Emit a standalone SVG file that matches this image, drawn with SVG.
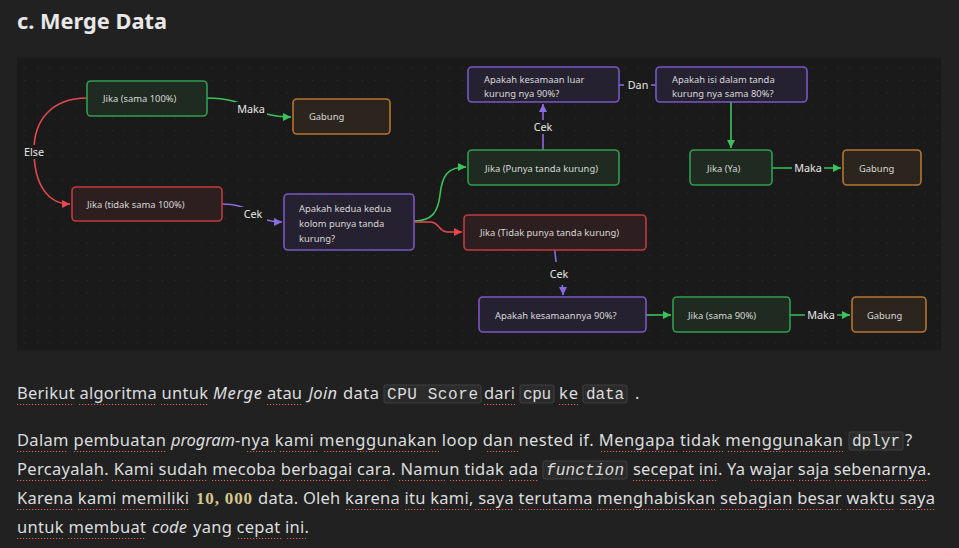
<svg xmlns="http://www.w3.org/2000/svg" width="959" height="548" viewBox="0 0 959 548">
<defs>
<pattern id="dots" x="24.5" y="67.5" width="12.5" height="12.5" patternUnits="userSpaceOnUse"><circle cx="0.6" cy="0.6" r="0.6" fill="#2e2e2e"/></pattern>
<marker id="ag" viewBox="0 0 10 10" refX="10" refY="5" markerWidth="8" markerHeight="8" markerUnits="userSpaceOnUse" orient="auto"><path d="M0,0 L10,5 L0,10 z" fill="#3cc25b"/></marker>
<marker id="ar" viewBox="0 0 10 10" refX="10" refY="5" markerWidth="8" markerHeight="8" markerUnits="userSpaceOnUse" orient="auto"><path d="M0,0 L10,5 L0,10 z" fill="#e5484d"/></marker>
<marker id="ap" viewBox="0 0 10 10" refX="10" refY="5" markerWidth="8" markerHeight="8" markerUnits="userSpaceOnUse" orient="auto"><path d="M0,0 L10,5 L0,10 z" fill="#8a6be0"/></marker>
</defs>
<style>
.nd rect{stroke-width:1.6}
.g rect{fill:#1f2a21;stroke:#2f9e4f}
.o rect{fill:#2b251d;stroke:#b87430}
.r rect{fill:#2d1f20;stroke:#c33a3f}
.p rect{fill:#252130;stroke:#7a57c6}
.nt{font-family:"Noto Sans",sans-serif;font-size:9.4px;fill:#d8d8d8}
.e{fill:none;stroke-width:1.6}
.eg{stroke:#3cc25b}.er{stroke:#e5484d}.ep{stroke:#8a6be0}
.lb{fill:#1a1a1a}
.el{font-family:"Noto Sans",sans-serif;font-size:10.8px;fill:#e6e6e6;text-anchor:middle}
.tx{font-family:"Noto Sans",sans-serif;font-size:16.5px;fill:#dcddde}
.it{font-style:italic}
.cb{fill:#2b2b2b;stroke:#404040;stroke-width:1}
.cd{font-family:"Liberation Mono","DejaVu Sans Mono",monospace;font-size:16px;fill:#dcddde}
.ul{stroke:#e0604f;stroke-width:1.2;stroke-dasharray:1.2 1.8}
</style>
<rect width="959" height="548" fill="#212121"/>
<text x="17" y="29" font-family="Noto Sans, sans-serif" font-size="22" font-weight="700" fill="#e8e8e8" textLength="150" lengthAdjust="spacingAndGlyphs">c. Merge Data</text>
<rect x="17" y="58" width="924" height="292" fill="#1a1a1a"/>
<rect x="17" y="58" width="924" height="292" fill="url(#dots)"/>

<g id="connectors">
<path class="e eg" d="M207,98 C250,98 250,117 291,117" marker-end="url(#ag)"/>
<path class="e er" d="M87,98 C52,98 34,120 34,150 C34,185 48,204 70,204" marker-end="url(#ar)"/>
<path class="e ep" d="M222,204 C256,204 252,222 282,222" marker-end="url(#ap)"/>
<path class="e eg" d="M414,221 C432,221 438,212 440,195 C442,175 448,167 466,167" marker-end="url(#ag)"/>
<path class="e er" d="M414,222 L430,222 C440,222 438,232 448,232 L462,232" marker-end="url(#ar)"/>
<path class="e ep" d="M543,150 L543,104" marker-end="url(#ap)"/>
<path class="e ep" d="M619,85 L656,85"/>
<path class="e eg" d="M731,102 L731,148" marker-end="url(#ag)"/>
<path class="e eg" d="M772,168 L841,168" marker-end="url(#ag)"/>
<path class="e ep" d="M555,250 C555,275 563,272 563,295" marker-end="url(#ap)"/>
<path class="e eg" d="M646,315 L671,315" marker-end="url(#ag)"/>
<path class="e eg" d="M790,315 L850,315" marker-end="url(#ag)"/>
<rect class="lb" x="235" y="102" width="32" height="13"/><text class="el" x="251" y="112.5">Maka</text>
<rect class="lb" x="22" y="145" width="24" height="14"/><text class="el" x="34" y="156">Else</text>
<rect class="lb" x="239" y="207" width="28" height="14"/><text class="el" x="253" y="218">Cek</text>
<rect class="lb" x="529" y="120" width="28" height="14"/><text class="el" x="543" y="131">Cek</text>
<rect class="lb" x="624" y="78" width="27" height="14"/><text class="el" x="638" y="89">Dan</text>
<rect class="lb" x="792" y="161" width="32" height="14"/><text class="el" x="808" y="172">Maka</text>
<rect class="lb" x="545" y="262" width="28" height="23"/><text class="el" x="559" y="278">Cek</text>
<rect class="lb" x="805" y="308" width="32" height="14"/><text class="el" x="821" y="319">Maka</text>
</g>

<g id="n1" class="nd g"><rect x="87" y="81" width="120" height="35" rx="4"/><text class="nt" x="103" y="102">Jika (sama 100%)</text></g>
<g id="n2" class="nd o"><rect x="293" y="99" width="97" height="35" rx="4"/><text class="nt" x="309" y="120">Gabung</text></g>
<g id="n3" class="nd r"><rect x="72" y="187" width="150" height="34" rx="4"/><text class="nt" x="87" y="207.5">Jika (tidak sama 100%)</text></g>
<g id="n4" class="nd p"><rect x="284" y="194" width="130" height="56" rx="4"/><text class="nt" x="299" y="211.5">Apakah kedua kedua</text><text class="nt" x="299" y="226.5">kolom punya tanda</text><text class="nt" x="299" y="241.5">kurung?</text></g>
<g id="n5" class="nd p"><rect x="468" y="67" width="151" height="35" rx="4"/><text class="nt" x="484" y="82.5">Apakah kesamaan luar</text><text class="nt" x="484" y="96.5">kurung nya 90%?</text></g>
<g id="n6" class="nd g"><rect x="468" y="150" width="151" height="35" rx="4"/><text class="nt" x="485" y="171.5">Jika (Punya tanda kurung)</text></g>
<g id="n7" class="nd r"><rect x="464" y="215" width="182" height="35" rx="4"/><text class="nt" x="480" y="236">Jika (Tidak punya tanda kurung)</text></g>
<g id="n8" class="nd p"><rect x="656" y="67" width="151" height="35" rx="4"/><text class="nt" x="672" y="82.5">Apakah isi dalam tanda</text><text class="nt" x="672" y="96.5">kurung nya sama 80%?</text></g>
<g id="n9" class="nd g"><rect x="690" y="150" width="82" height="35" rx="4"/><text class="nt" x="707" y="171.5">Jika (Ya)</text></g>
<g id="n10" class="nd o"><rect x="843" y="150" width="78" height="35" rx="4"/><text class="nt" x="859" y="171.5">Gabung</text></g>
<g id="n11" class="nd p"><rect x="479" y="297" width="167" height="35" rx="4"/><text class="nt" x="495" y="318.5">Apakah kesamaannya 90%?</text></g>
<g id="n12" class="nd g"><rect x="673" y="297" width="117" height="35" rx="4"/><text class="nt" x="688" y="318.5">Jika (sama 90%)</text></g>
<g id="n13" class="nd o"><rect x="852" y="297" width="74" height="35" rx="4"/><text class="nt" x="867" y="318.5">Gabung</text></g>

<g id="paragraph">
<rect class="cb" x="384" y="385" width="97" height="18" rx="2"/>
<rect class="cb" x="520" y="385" width="34" height="18" rx="2"/>
<rect class="cb" x="583" y="385" width="44" height="18" rx="2"/>
<rect class="cb" x="849" y="432" width="54" height="18" rx="2"/>
<rect class="cb" x="543" y="461" width="84" height="18" rx="2"/>
<text class="tx" x="17" y="399" textLength="191">Berikut algoritma untuk</text>
<text class="tx it" x="213" y="399" textLength="49">Merge</text>
<text class="tx" x="267" y="399" textLength="35">atau</text>
<text class="tx it" x="308.5" y="399" textLength="28.5">Join</text>
<text class="tx" x="343" y="399" textLength="36">data</text>
<text class="cd" x="387" y="399" textLength="91">CPU Score</text>
<text class="tx" x="484" y="399" textLength="31">dari</text>
<text class="cd" x="523" y="399" textLength="28">cpu</text>
<text class="tx" x="559" y="399" textLength="19">ke</text>
<text class="cd" x="586" y="399" textLength="38">data</text>
<text class="tx" x="635" y="399">.</text>

<text class="tx" x="17" y="446" textLength="149">Dalam pembuatan</text>
<text class="tx it" x="171" y="446" textLength="64">program</text>
<text class="tx" x="235" y="446" textLength="608">-nya kami menggunakan loop dan nested if. Mengapa tidak menggunakan</text>
<text class="cd" x="852" y="446" textLength="48">dplyr</text>
<text class="tx" x="905" y="446">?</text>

<text class="tx" x="17" y="475" textLength="521">Percayalah. Kami sudah mecoba berbagai cara. Namun tidak ada</text>
<text class="cd it" x="546" y="475" textLength="78">function</text>
<text class="tx" x="633" y="475" textLength="298">secepat ini. Ya wajar saja sebenarnya.</text>

<text class="tx" x="17" y="504" textLength="172">Karena kami memiliki</text>
<text x="196" y="504" font-family="Liberation Serif, serif" font-size="17" font-weight="700" fill="#d6c78c" textLength="56">10, 000</text>
<text class="tx" x="258" y="504" textLength="677">data. Oleh karena itu kami, saya terutama menghabiskan sebagian besar waktu saya</text>

<text class="tx" x="17" y="533" textLength="129">untuk membuat</text>
<text class="tx it" x="152" y="533" textLength="35">code</text>
<text class="tx" x="193" y="533" textLength="116">yang cepat ini.</text>

<path class="ul" d="M17,404.5H73M79,404.5H155M161,404.5H208M267,404.5H302M484,404.5H515M559,404.5H578"/>
<path class="ul" d="M17,451.5H68M74,451.5H166M247,451.5H275M280,451.5H318M324,451.5H439M487,451.5H518M601,451.5H678M683,451.5H723M728,451.5H843"/>
<path class="ul" d="M17,480.5H103M112,480.5H152M157,480.5H207M212,480.5H275M280,480.5H352M357,480.5H390M399,480.5H445M450,480.5H504M509,480.5H538M633,480.5H695M700,480.5H718M751,480.5H794M799,480.5H830M835,480.5H927"/>
<path class="ul" d="M17,509.5H73M78,509.5H116M121,509.5H189M346,509.5H400M405,509.5H426M431,509.5H470M475,509.5H513M519,509.5H592M597,509.5H715M720,509.5H793M798,509.5H842M847,509.5H895M900,509.5H935"/>
<path class="ul" d="M17,538.5H63M68,538.5H146M238,538.5H282M287,538.5H306"/>
</g>
</svg>
